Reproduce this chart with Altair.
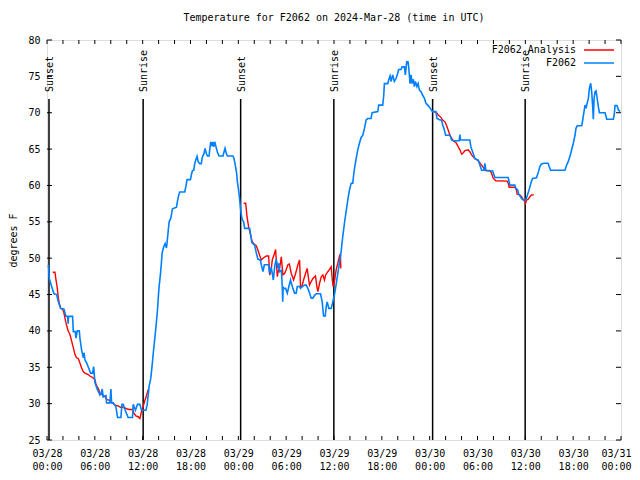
import altair as alt
import pandas as pd

# Hours since 2024-03-28 00:00 UTC and temperatures (deg F)
obs_hours = [0.17, 0.29, 0.58, 0.88, 1.21, 1.42, 1.71, 2.13, 2.38, 2.60, 2.65, 2.71, 3.21, 3.30, 3.55, 3.63, 3.80, 4.05,
             4.13, 4.34, 4.55, 4.65, 4.76, 4.97, 5.30, 5.47, 5.72, 5.85, 5.93, 6.01, 6.30, 6.64, 6.80, 6.93, 7.05, 7.39,
             7.47, 7.89, 8.02, 8.10, 8.31, 8.64, 8.85, 9.27, 9.40, 9.56, 9.77, 10.18, 10.73, 10.81, 11.10, 11.35, 11.65,
             11.85, 12.40, 12.56, 12.81, 13.02, 13.19, 13.31, 13.44, 13.61, 13.73, 13.86, 13.94, 14.06, 14.24, 14.36,
             14.44, 14.65, 14.82, 14.98, 15.05, 15.19, 15.32, 15.53, 15.74, 16.24, 16.36, 16.53, 16.65, 17.28, 17.41,
             17.57, 17.99, 18.12, 18.24, 18.41, 18.53, 18.66, 18.82, 18.95, 19.16, 19.35, 19.49, 19.70, 19.82, 19.99,
             20.12, 20.33, 20.41, 20.54, 20.66, 20.79, 20.91, 21.04, 21.20, 21.37, 21.58, 22.08, 22.20, 22.33, 22.50,
             22.63, 23.33, 23.45, 23.58, 23.67, 23.79, 23.88, 24.00, 24.13, 24.25, 24.38, 24.50, 24.67, 24.79, 25.42,
             25.54, 25.71, 26.04, 26.26, 26.46, 26.76, 26.88, 27.09, 27.26, 27.80, 27.92, 28.13, 28.26, 28.39, 28.59,
             28.76, 28.96, 29.09, 29.18, 29.40, 29.51, 29.57, 29.62, 29.72, 29.93, 30.14, 30.34, 30.55, 30.72, 30.84,
             31.05, 31.26, 31.39, 31.68, 31.80, 32.01, 32.31, 32.52, 32.72, 32.93, 33.14, 33.35, 33.56, 33.77, 34.31,
             34.52, 34.69, 34.90, 35.02, 35.15, 35.35, 35.65, 35.85, 36.06, 36.27, 36.48, 36.69, 36.90, 37.10, 37.31,
             37.53, 37.73, 37.94, 38.15, 38.35, 38.44, 38.57, 38.78, 38.98, 39.19, 39.40, 39.61, 39.82, 40.03, 40.23,
             40.65, 40.78, 41.49, 41.61, 42.11, 42.24, 42.32, 42.74, 42.86, 43.03, 43.16, 43.36, 43.57, 43.78, 43.99,
             44.11, 44.41, 44.54, 44.83, 44.95, 45.12, 45.29, 45.37, 45.54, 45.67, 45.79, 45.95, 46.08, 46.21, 46.40,
             46.55, 46.71, 46.92, 47.12, 47.33, 47.54, 47.75, 47.96, 48.17, 48.37, 48.79, 48.92, 49.29, 49.50, 49.63,
             49.79, 50.00, 50.54, 50.75, 50.96, 51.70, 51.79, 51.87, 53.04, 53.17, 53.46, 53.67, 54.09, 54.30, 54.51,
             54.80, 54.92, 55.05, 55.90, 56.18, 57.85, 58.06, 58.68, 58.81, 59.02, 59.18, 59.52, 59.73, 60.07, 60.23,
             60.48, 60.69, 60.90, 61.40, 61.65, 61.82, 62.03, 62.32, 62.85, 62.99, 63.17, 64.97, 65.18, 65.39, 65.60,
             65.81, 66.02, 66.23, 66.35, 66.52, 67.07, 67.20, 67.36, 67.49, 67.61, 67.70, 67.91, 68.03, 68.20, 68.33,
             68.45, 68.53, 68.62, 68.74, 68.87, 69.04, 69.16, 69.29, 70.00, 70.21, 71.04, 71.17, 71.25, 71.50, 71.67,
             71.88]
obs_temps = [49.1, 47.2, 46.1, 45.1, 45.0, 44.0, 43.1, 43.0, 42.0, 42.0, 41.0, 42.0, 42.0, 39.9, 39.9, 39.0, 40.0, 40.0,
             39.0, 37.4, 36.3, 37.0, 36.0, 35.6, 34.7, 34.2, 34.2, 35.1, 34.0, 32.9, 32.0, 31.2, 31.5, 32.0, 30.9, 31.1,
             30.1, 30.1, 32.0, 30.1, 30.1, 29.6, 28.1, 28.1, 29.9, 29.9, 29.2, 28.1, 28.1, 29.9, 29.1, 29.9, 29.9,
             29.1, 29.1, 29.8, 32.4, 33.5, 35.3, 36.7, 38.1, 39.9, 41.3, 42.9, 44.25, 46.1, 47.9, 49.5,
             50.7, 51.6, 52.0, 51.4, 52.0, 53.6, 55.0, 55.5, 56.8, 57.0, 57.8, 58.7, 59.1, 59.1, 59.8,
             60.8, 60.8, 61.5, 62.0, 62.1, 63.0, 63.5, 64.0, 63.3, 63.0, 63.0, 63.9, 64.4, 65.1, 64.4,
             64.05, 64.05, 64.9, 66.0, 65.4, 66.0, 65.3, 66.0, 65.3, 64.6, 64.05, 64.05, 64.6, 65.1, 64.4,
             64.05, 64.05, 63.7, 63.05, 62.4, 61.7, 60.5, 59.6, 58.45, 57.1, 55.9, 55.25, 55.0, 54.1, 54.1,
             53.2, 52.1, 51.8, 50.7, 49.85, 49.75, 49.1, 48.15, 49.1, 49.1, 47.9, 48.75, 47.9, 47.0, 49.1,
             49.85, 48.6, 49.3, 48.15, 48.3, 46.1, 44.0, 46.0, 45.85, 45.85, 45.2, 46.1, 47.0, 46.3, 45.85,
             45.2, 45.2, 46.1, 46.1, 45.85, 46.1, 46.3, 46.3, 45.85, 45.2, 44.5, 44.5, 44.9, 45.1, 45.1,
             44.0, 42.05, 42.05, 43.3, 44.0, 43.1, 43.1, 44.0, 45.0, 46.4, 47.9, 49.4, 51.0, 53.0, 54.8,
             56.5, 58.0, 59.4, 60.3, 60.3, 61.2, 62.35, 63.7, 64.9, 65.8, 66.6, 66.9, 67.85, 69.0, 69.2,
             69.2, 70.0, 70.15, 71.05, 71.05, 72.4, 74.0, 74.0, 74.5, 75.05, 74.3, 75.2, 74.3, 74.7, 75.4,
             75.95, 75.95, 76.3, 76.3, 75.2, 77.0, 77.0, 76.3, 74.0, 75.2, 74.0, 74.6, 73.6, 74.3, 73.6,
             74.0, 73.1, 72.9, 72.4, 72.0, 71.3, 71.05, 70.8, 70.45, 70.15, 70.15, 69.2, 69.0, 69.0, 68.3,
             67.85, 66.9, 66.9, 66.25, 66.15, 66.15, 67.0, 66.25, 66.25, 65.3, 64.4, 63.7, 63.5, 62.8, 62.1,
             62.1, 63.05, 62.1, 62.0, 61.1, 61.1, 60.05, 60.05, 59.6, 59.4, 58.8, 58.2, 58.0, 58.0, 58.55,
             59.45, 60.3, 60.95, 61.05, 61.9, 62.6, 62.95, 63.05, 63.05, 62.6, 62.1, 62.1, 62.8, 63.3, 64.0,
             64.9, 65.8, 66.9, 67.85, 68.2, 68.2, 69.0, 70.15, 71.05, 70.6, 71.05, 72.0, 73.3, 74.05, 72.8,
             70.8, 69.1, 71.9, 72.9, 73.0, 71.75, 70.8, 70.0, 70.0, 69.1, 69.1, 69.9, 71.0, 71.0, 70.4,
             70.15]

ana_hours = [0.71, 1.00, 1.13, 1.29, 1.42, 1.54, 1.71, 1.96, 2.13, 2.25, 2.38, 2.55, 2.67, 2.88, 3.09, 3.30, 3.51,
             3.71, 3.92, 4.13, 4.34, 4.55, 4.76, 5.18, 5.38, 5.72, 6.01, 6.14, 6.30, 6.47, 6.64, 6.85, 7.05, 7.26, 7.47,
             7.89, 8.22, 8.51, 8.93, 9.22, 9.56, 9.98, 10.31, 10.73, 10.90, 11.14, 11.44, 11.65, 11.85, 12.06, 12.27,
             12.48, 12.69,
             24.67, 24.92, 25.09, 25.29, 25.50, 25.71, 25.92, 26.26, 26.46, 26.67, 26.88, 27.09, 27.51, 27.80, 27.93,
             28.10, 28.26, 28.55, 28.68, 28.76, 28.89, 29.00, 29.18, 29.39, 29.59, 29.80, 30.01, 30.22, 30.40, 30.64,
             30.93, 31.18, 31.47, 31.68, 31.80, 31.95, 32.18, 32.43, 32.64, 32.76, 32.93, 33.14, 33.35, 33.68, 33.85,
             33.98, 34.19, 34.40, 34.60, 34.81, 34.95, 35.23, 35.44, 35.65, 35.77, 35.89, 36.06, 36.27, 36.48, 36.69,
             36.81, 36.85,
             48.45, 48.87, 49.08, 49.38, 49.63, 49.92, 50.13, 50.33, 50.54, 50.75, 50.96, 51.30, 51.59, 51.80, 52.01,
             52.22, 52.43, 52.84, 53.05, 53.26, 53.47, 53.67, 54.09, 54.30, 54.51, 54.71, 54.92, 55.13, 55.55, 55.76,
             55.97, 56.30, 57.72, 57.85, 57.97, 58.68, 58.89, 58.97, 59.31, 59.52, 59.73, 59.94, 60.03, 60.15, 60.36,
             60.57, 60.78, 61.07]
ana_temps = [48.06, 48.06, 47.0, 45.9, 44.5, 43.8, 43.1, 43.0, 42.45, 41.8, 41.1, 40.4, 39.95, 39.5, 38.6, 37.7, 36.75,
             36.3, 36.2, 35.6, 34.9, 34.4, 34.2, 34.0, 33.8, 33.6, 33.3, 32.7, 32.3, 32.0, 31.4, 31.3, 31.1, 31.0, 30.6,
             30.4, 30.1, 29.8, 29.7, 29.5, 29.5, 29.3, 29.2, 29.2, 28.7, 28.3, 28.2, 27.95, 28.9, 29.6, 30.4,
             31.1, 31.9,
             57.55, 57.55, 55.7, 54.3, 53.4, 52.35, 52.0, 51.7, 51.1, 50.4, 49.75, 50.0, 50.3, 50.3, 47.7,
             48.2, 49.75, 50.7, 51.2, 49.75, 47.45, 48.2, 48.6, 50.2, 47.7, 47.9, 48.45, 49.1, 49.2, 47.9,
             47.0, 47.9, 49.1, 49.75, 46.1, 46.0, 47.0, 47.9, 48.6, 47.55, 46.3, 46.8, 47.2, 47.55, 46.1,
             45.4, 46.55, 47.45, 47.7, 47.0, 47.7, 48.15, 48.45, 48.8, 47.2, 46.1, 46.8, 48.4, 49.3, 50.3,
             50.6, 48.6,
             70.2, 70.0, 69.7, 69.4, 69.0, 68.75, 68.2, 67.6, 66.9, 66.5, 66.15, 65.9, 65.3, 64.9, 64.3,
             64.5, 64.8, 64.9, 64.6, 64.2, 63.95, 63.7, 63.4, 63.1, 62.8, 62.5, 62.1, 62.0, 62.0, 61.7,
             61.0, 60.65, 60.6, 60.3, 59.75, 59.75, 59.4, 58.8, 58.7, 58.45, 58.1, 57.85, 57.55, 58.0, 58.1,
             58.45, 58.7, 58.7]
ana_night = [1] * 53 + [2] * 62 + [3] * 48

sun_hours = [0.25, 12.06, 24.29, 35.98, 48.37, 59.98]
sun_labels = ["Sunset", "Sunrise", "Sunset", "Sunrise", "Sunset", "Sunrise"]

x_tick_values = list(range(0, 73, 2))
x_label_values = list(range(0, 73, 6))
y_tick_values = list(range(25, 81, 5))

legend_names = ["F2062 Analysis", "F2062"]
legend_colors = ["#ff0000", "#0080ff"]

FONT = "DejaVu Sans Mono"
W, H = 574, 400

obs = pd.DataFrame({"h": obs_hours, "t": obs_temps})
ana = pd.DataFrame({"h": ana_hours, "t": ana_temps, "night": ana_night})
sun = pd.DataFrame({"h": sun_hours, "label": sun_labels})
xt = pd.DataFrame({"h": x_tick_values})
yt = pd.DataFrame({"t": y_tick_values})

x_enc = alt.X(
    "h:Q",
    scale=alt.Scale(domain=[0, 72], nice=False, zero=False),
    axis=alt.Axis(
        values=x_label_values, title=None, grid=False, ticks=False, tickSize=0, domain=False,
        labelExpr="['03/' + (28 + floor(datum.value / 24)), ((datum.value % 24) < 10 ? '0' : '') + (datum.value % 24) + ':00']",
        labelFont=FONT, labelFontSize=10, labelColor="black", labelPadding=8, labelLineHeight=13,
        labelFlush=False, labelOverlap=False, labelAlign="center",
        labelOffset={"condition": {"test": "datum.value == 72", "value": -5}, "value": 0},
    ),
)
y_enc = alt.Y(
    "t:Q",
    scale=alt.Scale(domain=[25, 80], nice=False, zero=False),
    axis=alt.Axis(
        values=y_tick_values, title="degrees F", grid=False, ticks=False, tickSize=0, domain=False,
        labelFont=FONT, labelFontSize=10, labelColor="black", labelPadding=7,
        titleFont=FONT, titleFontSize=10, titleFontWeight="normal", titleColor="black", titlePadding=9,
    ),
)

xticks_bottom = alt.Chart(xt).mark_rule(color="black", strokeWidth=1).encode(
    x=x_enc, y=alt.value(H), y2=alt.value(H - 4))
xticks_top = alt.Chart(xt).mark_rule(color="black", strokeWidth=1).encode(
    x=x_enc, y=alt.value(0), y2=alt.value(4))
yticks_left = alt.Chart(yt).mark_rule(color="black", strokeWidth=1).encode(
    y=y_enc, x=alt.value(0), x2=alt.value(5))
yticks_right = alt.Chart(yt).mark_rule(color="black", strokeWidth=1).encode(
    y=y_enc, x=alt.value(W - 5), x2=alt.value(W))

sun_lines = alt.Chart(sun).mark_rule(color="black", strokeWidth=1.5).encode(
    x=x_enc, y=alt.value(59), y2=alt.value(H))
sun_text = alt.Chart(sun).mark_text(
    angle=270, align="left", baseline="middle", font=FONT, fontSize=10, color="black", dy=1
).encode(x=x_enc, y=alt.value(52), text="label:N")

ana_line = alt.Chart(ana).mark_line(color="#ff0000", strokeWidth=1.4).encode(
    x=x_enc, y=y_enc, detail="night:N")
obs_line = alt.Chart(obs).mark_line(color="#0080ff", strokeWidth=1.6).encode(
    x=x_enc, y=y_enc)

leg_layers = []
for i, (name, col) in enumerate(zip(legend_names, legend_colors)):
    ly = 10 + 13 * i
    leg_df = pd.DataFrame({"name": [name]})
    leg_layers.append(
        alt.Chart(leg_df).mark_text(align="right", baseline="middle", font=FONT, fontSize=10, color="black")
        .encode(text="name:N", x=alt.value(529), y=alt.value(ly))
    )
    leg_layers.append(
        alt.Chart(leg_df).mark_rule(color=col, strokeWidth=1.5)
        .encode(x=alt.value(537), x2=alt.value(567), y=alt.value(ly))
    )

chart = alt.layer(
    sun_lines, sun_text, ana_line, obs_line,
    xticks_bottom, xticks_top, yticks_left, yticks_right,
    *leg_layers,
).properties(
    width=W, height=H,
    title=alt.TitleParams(
        "Temperature for F2062 on 2024-Mar-28 (time in UTC)",
        font=FONT, fontSize=10, fontWeight="normal", color="black", anchor="middle", offset=12,
    ),
    autosize=alt.AutoSizeParams(type="none"),
    padding={"left": 39, "top": 32, "right": 11, "bottom": 32},
).configure_view(stroke="black", strokeWidth=1).configure(background="white")

chart.save("out.html", embed_options={"renderer": "svg", "actions": False})
